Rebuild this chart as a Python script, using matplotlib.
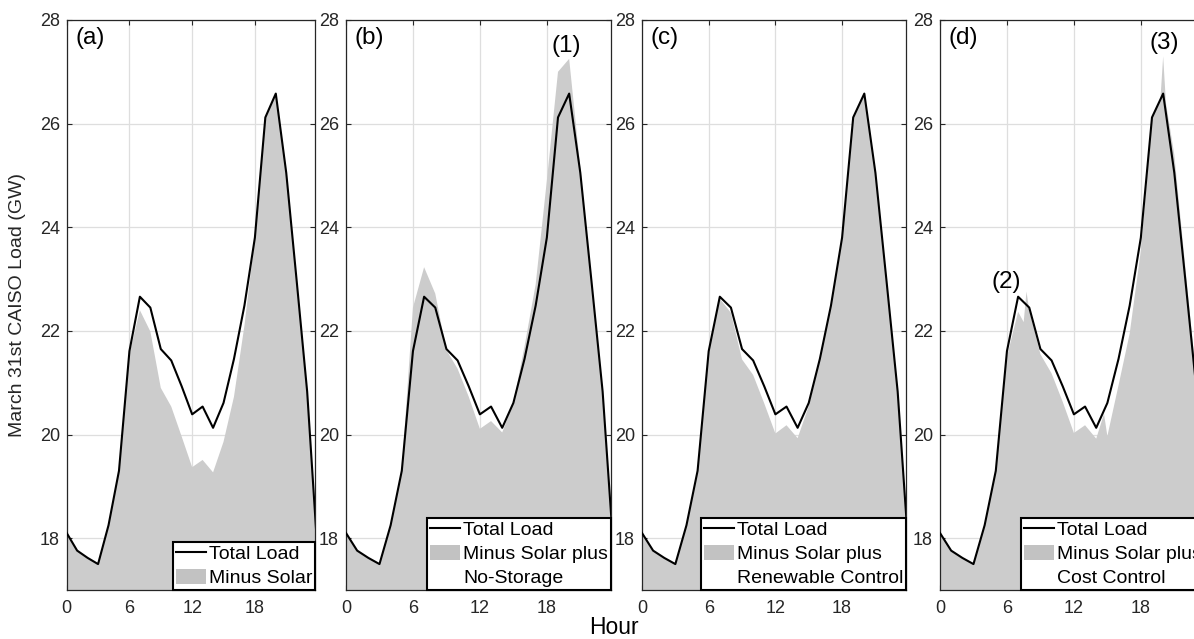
import matplotlib
matplotlib.use('Agg')
import matplotlib.pyplot as plt
from matplotlib.lines import Line2D
from matplotlib.patches import Patch

# hourly CAISO load, March 31st (GW)
hours = [0, 1, 2, 3, 4, 5, 6, 7, 8, 9, 10, 11, 12, 13, 14, 15, 16, 17, 18, 19, 20, 21, 22, 23, 24]
total_load = [18.10, 17.76, 17.62, 17.50, 18.25, 19.30, 21.61, 22.66, 22.45, 21.65, 21.43, 20.93, 20.39,
              20.54, 20.13, 20.61, 21.46, 22.49, 23.80, 26.12, 26.58, 25.05, 22.96, 20.83, 17.70]

minus_solar = [18.10, 17.76, 17.62, 17.50, 18.25, 19.30, 21.55, 22.40, 21.99, 20.90, 20.54, 19.96, 19.37,
               19.51, 19.27, 19.86, 20.73, 22.10, 23.80, 26.12, 26.58, 25.05, 22.96, 20.83, 17.70]

no_storage = [18.10, 17.76, 17.62, 17.50, 18.25, 19.30, 22.45, 23.23, 22.72, 21.63, 21.27, 20.73, 20.11,
              20.26, 20.04, 20.61, 21.70, 22.90, 24.90, 27.00, 27.25, 25.15, 22.96, 20.83, 17.70]

renewable_control = [18.10, 17.76, 17.62, 17.50, 18.25, 19.30, 21.61, 22.62, 22.35, 21.45, 21.15, 20.60, 20.02,
                     20.18, 19.93, 20.55, 21.46, 22.49, 23.80, 26.12, 26.58, 25.05, 22.96, 20.83, 17.70]

cost_hours = [0, 1, 2, 3, 4, 5, 6, 7, 7.5, 7.75, 8, 9, 10, 11, 12, 13, 14, 14.7, 15, 16, 17, 18, 19,
              19.75, 20, 20.25, 21, 22, 23, 24]
cost_control = [18.10, 17.76, 17.62, 17.50, 18.25, 19.30, 21.50, 22.37, 22.17, 22.76, 22.40, 21.55, 21.18,
                20.63, 20.03, 20.18, 19.92, 20.40, 19.97, 20.95, 21.95, 23.55, 26.10,
                26.45, 27.30, 26.40, 25.40, 23.20, 21.00, 17.80]

x_ticks = [0, 6, 12, 18]
y_ticks = [18, 20, 22, 24, 26, 28]

GRAY = '#cccccc'
AXCOL = '#262626'

plt.rcParams['font.family'] = ['Liberation Sans', 'DejaVu Sans']


def draw_panel(ax, tag, fill_x, fill_y, labels):
    ax.fill_between(fill_x, fill_y, 0, color=GRAY, linewidth=0, zorder=2)
    ax.plot(hours, total_load, color='black', linewidth=1.5, zorder=3)
    ax.set_xlim(0, 23.75)
    ax.set_ylim(17, 28)
    ax.set_xticks(x_ticks)
    ax.set_yticks(y_ticks)
    ax.set_axisbelow(True)
    ax.grid(True, color='#dedede', linewidth=0.9)
    ax.tick_params(direction='in', top=True, right=True, length=3.6, width=0.8,
                   colors=AXCOL, labelsize=13)
    ax.tick_params(axis='x', pad=7)
    ax.tick_params(axis='y', pad=5)
    for s in ax.spines.values():
        s.set_color(AXCOL)
        s.set_linewidth(0.9)
    ax.annotate(tag, xy=(0, 1), xycoords='axes fraction', xytext=(6, -5),
                textcoords='offset points', ha='left', va='top', fontsize=17.5)

    handles = [Line2D([], [], color='black', linewidth=1.5),
               Patch(facecolor='#c2c2c2', edgecolor='none')]
    if len(labels) > 2:
        handles.append(Line2D([], [], linestyle='none'))
    leg = ax.legend(handles, labels, loc='lower right', borderaxespad=0, fancybox=False,
                    framealpha=1, edgecolor='black', fontsize=14, handlelength=1.55,
                    handleheight=0.85, handletextpad=0.15, borderpad=0.15, labelspacing=0.28)
    leg.get_frame().set_linewidth(1.5)
    leg.set_zorder(5)


def main():
    fig = plt.figure(figsize=(11.94, 6.39), dpi=100)
    bottom = 49 / 639
    height = 570 / 639
    ax_a = fig.add_axes([66.7 / 1194, bottom, 248.3 / 1194, height])
    ax_b = fig.add_axes([346 / 1194, bottom, 265 / 1194, height])
    ax_c = fig.add_axes([642 / 1194, bottom, 264 / 1194, height])
    ax_d = fig.add_axes([940 / 1194, bottom, 265 / 1194, height])

    draw_panel(ax_a, '(a)', hours, minus_solar, ['Total Load', 'Minus Solar'])
    draw_panel(ax_b, '(b)', hours, no_storage, ['Total Load', 'Minus Solar plus', 'No-Storage'])
    draw_panel(ax_c, '(c)', hours, renewable_control,
               ['Total Load', 'Minus Solar plus', 'Renewable Control'])
    draw_panel(ax_d, '(d)', cost_hours, cost_control, ['Total Load', 'Minus Solar plus', 'Cost Control'])

    ax_b.text(19.7, 27.5, '(1)', ha='center', va='center', fontsize=17.5)
    ax_d.text(5.95, 22.94, '(2)', ha='center', va='center', fontsize=17.5)
    ax_d.text(20.1, 27.55, '(3)', ha='center', va='center', fontsize=17.5)

    fig.text(18 / 1194, 1 - 305 / 639, 'March 31st CAISO Load (GW)', rotation=90,
             ha='center', va='center', fontsize=14, color=AXCOL)
    fig.text(614 / 1194, 1 - 628 / 639, 'Hour', ha='center', va='center', fontsize=16.5)

    fig.savefig('out.png', dpi=100)


if __name__ == '__main__':
    main()
